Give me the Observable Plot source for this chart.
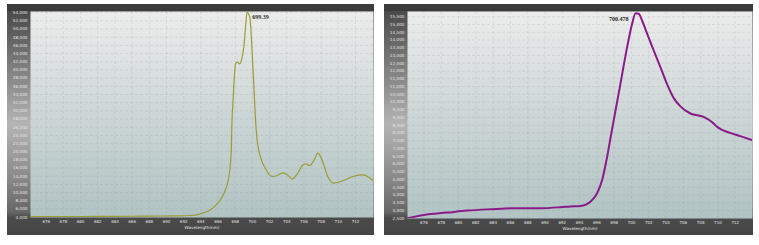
<!DOCTYPE html>
<html><head><meta charset="utf-8">
<script src="https://cdn.jsdelivr.net/npm/d3@7"></script>
<script src="https://cdn.jsdelivr.net/npm/@observablehq/plot@0.6"></script>
<style>
html,body{margin:0;padding:0;background:#fff;width:759px;height:245px;overflow:hidden}
.panel{position:absolute;top:4px}
#p1{left:7px}
#p2{left:384px}
</style></head><body>
<div id="p1" class="panel"></div><div id="p2" class="panel"></div>
<script>
// ---- data ----
const xTicks = [676,678,680,682,684,686,688,690,692,694,696,698,700,702,704,706,708,710,712];
const leftYTicks = [4000,6000,8000,10000,12000,14000,16000,18000,20000,22000,24000,26000,28000,30000,32000,34000,36000,38000,40000,42000,44000,46000,48000,50000,52000,54000];
const rightYTicks = [2500,3000,3500,4000,4500,5000,5500,6000,6500,7000,7500,8000,8500,9000,9500,10000,10500,11000,11500,12000,12500,13000,13500,14000,14500,15000,15500];
const axisTitle = "Wavelength(nm)";

const leftWl  = [674.2,678,682,686,688,690.5,692.8,693.96,695.12,695.9,696.67,697.25,697.53,697.63,697.75,698.04,698.23,698.54,698.81,699.0,699.2,699.39,699.55,699.7,699.9,700.16,700.37,700.56,700.95,701.53,702.31,702.9,703.48,704.06,704.64,705.23,705.81,706.2,706.66,707.16,707.63,708.14,708.72,709.5,710.62,711.79,712.78,713.54,714.1];
const leftVal = [4150,4160,4180,4230,4260,4320,4416,4830,5810,7276,9721,13780,19500,27643,32533,41506,41897,41506,43120,45565,50455,54200,53700,52900,47276,36616,27643,22753,18670,15834,13951,14196,14856,14367,13389,14611,16641,17056,16641,17863,19648,17863,14196,12313,12973,14024,14367,13780,12802];

const rightWl  = [674.1,675.98,678.69,681.0,683.7,686.39,689.48,691.79,692.94,694.1,695.26,696.03,696.61,697.19,697.65,698.2,698.72,699.5,700.08,700.478,700.84,701.23,701.81,702.57,703.35,704.12,704.89,705.66,706.82,708.35,709.51,709.9,711.44,712.6,713.95];
const rightVal = [2500,2712,2860,2989,3079,3144,3144,3208,3259,3291,3568,4109,4965,6464,7900,9580,11150,13543,15048,15720,15690,15261,14405,13330,12256,11150,10250,9720,9257,9038,8613,8394,8008,7796,7539];

const leftPeakWl = [699.39], leftPeakVal = [54200], leftPeakLabel = ["699.39"];
const rightPeakWl = [700.478], rightPeakVal = [15720], rightPeakLabel = ["700.478"];

function panel(cfg) {
  const pts = cfg.wl.map((w, i) => ({w, v: cfg.val[i]}));
  const peak = cfg.peakWl.map((w, i) => ({w, v: cfg.peakVal[i], t: cfg.peakLabel[i]}));
  const id = cfg.id;
  const defs = () => {
    const g = d3.create("svg:defs");
    const lg = g.append("linearGradient").attr("id", id).attr("x1", 0).attr("y1", 0).attr("x2", 0).attr("y2", 1);
    lg.append("stop").attr("offset", "0%").attr("stop-color", "#ececec");
    lg.append("stop").attr("offset", "45%").attr("stop-color", "#d0d8d8");
    lg.append("stop").attr("offset", "100%").attr("stop-color", "#b1c3c3");
    return g.node();
  };
  return Plot.plot({
    width: cfg.width, height: 231,
    marginTop: 7, marginLeft: 23, marginRight: 1, marginBottom: cfg.mb,
    style: "background: linear-gradient(to bottom, #3b3b3b 0px, #3b3b3b 7px, #4a4a4a 7px, #8e8e8e 35%, #b4b4b4 52%, #8a8a8a 75%, #666 90%, #4b4b4b 92.5%, #444 100%); color:#e2e2e2; font-family:'DejaVu Sans',sans-serif; overflow:visible",
    x: {domain: cfg.xDomain},
    y: {domain: cfg.yDomain},
    marks: [
      defs,
      Plot.frame({fill: `url(#${id})`, stroke: null}),
      Plot.gridX(xTicks, {stroke: "#7f8f8f", strokeOpacity: 0.25, strokeDasharray: "3,2", strokeWidth: 0.7}),
      Plot.gridY(cfg.yTicks, {stroke: "#7f8f8f", strokeOpacity: 0.25, strokeDasharray: "3,2", strokeWidth: 0.7}),
      Plot.line(pts, {x: "w", y: "v", stroke: cfg.color, strokeWidth: cfg.sw, curve: "monotone-x", clip: true}),
      Plot.axisY(cfg.yTicks, {tickFormat: d3.format(","), tickSize: 0, tickPadding: 3, fontSize: 4.2, color: "#e4e4e4", label: null}),
      Plot.axisX(xTicks, {tickSize: 0, tickPadding: 3, fontSize: 4, color: "#e4e4e4", label: null}),
      Plot.text([axisTitle], {frameAnchor: "bottom", text: d => d, dy: 11.5, fontSize: 4.2, fill: "#e4e4e4"}),
      Plot.text(peak, {x: "w", y: "v", text: "t", dx: cfg.dx, dy: cfg.dy, textAnchor: cfg.anchor, fontSize: 6, fontWeight: "bold", fill: "#2a2a2a", fontFamily: "'Liberation Serif',serif"})
    ]
  });
}

document.getElementById("p1").appendChild(panel({
  id: "bgL", width: 367, mb: 18, wl: leftWl, val: leftVal, yTicks: leftYTicks,
  xDomain: [674.17, 714.1], yDomain: [3927, 54293], color: "#9c9c36", sw: 1.2,
  peakWl: leftPeakWl, peakVal: leftPeakVal, peakLabel: leftPeakLabel, dx: 5, dy: 5, anchor: "start"
}));
document.getElementById("p2").appendChild(panel({
  id: "bgR", width: 369, mb: 17, wl: rightWl, val: rightVal, yTicks: rightYTicks,
  xDomain: [674.1, 714.0], yDomain: [2480, 15840], color: "#8a1a8a", sw: 2,
  peakWl: rightPeakWl, peakVal: rightPeakVal, peakLabel: rightPeakLabel, dx: -7, dy: 6, anchor: "end"
}));
</script>
</body></html>
